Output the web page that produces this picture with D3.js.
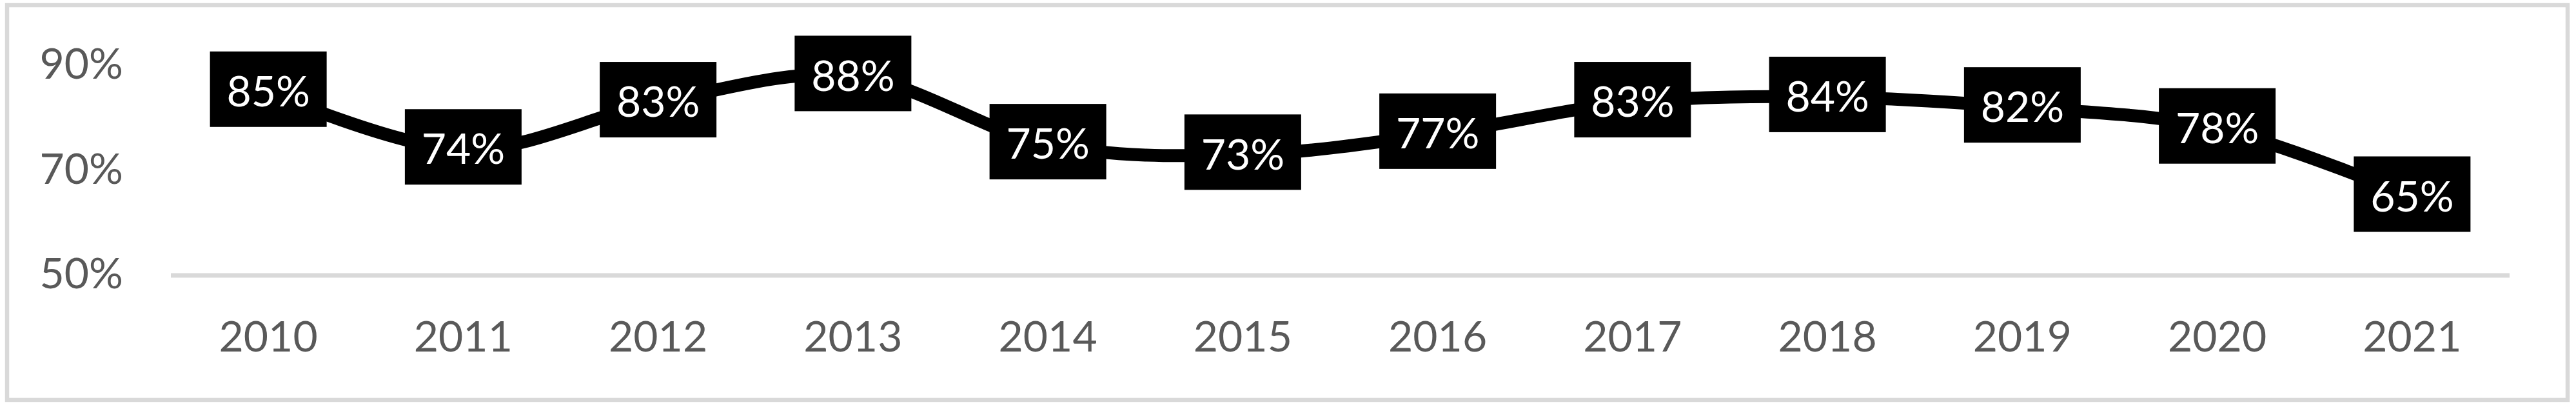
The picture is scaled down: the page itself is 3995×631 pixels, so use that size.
<!DOCTYPE html>
<html lang="en">
<head>
<meta charset="UTF-8">
<title>Chart</title>
<script src="https://cdn.jsdelivr.net/npm/d3@7"></script>
<style>
  html, body { margin: 0; padding: 0; background: #fff; }
  svg text { font-family: Lato, "Open Sans", sans-serif; }
</style>
</head>
<body>
<div id="chart"></div>
<script>
  // data
  const years = ["2010", "2011", "2012", "2013", "2014", "2015", "2016", "2017", "2018", "2019", "2020", "2021"];
  const rates = [0.85, 0.74, 0.83, 0.88, 0.75, 0.73, 0.77, 0.83, 0.84, 0.82, 0.78, 0.65];
  const yTicks = [0.5, 0.7, 0.9];

  const width = 3995, height = 631;
  const fontSize = 66;

  const svg = d3.select("#chart").append("svg")
    .attr("width", width)
    .attr("height", height);

  // chart border
  svg.append("rect")
    .attr("x", 11).attr("y", 8)
    .attr("width", 3971).attr("height", 612)
    .attr("fill", "#fff")
    .attr("stroke", "#d9d9d9")
    .attr("stroke-width", 6.5);

  const x = d3.scaleBand()
    .domain(years)
    .range([265, 3892])
    .padding(0);

  const y = d3.scaleLinear()
    .domain([0.5, 0.9])
    .range([427, 101.6]);

  const cx = d => x(d) + x.bandwidth() / 2;

  // baseline at 50%
  svg.append("line")
    .attr("x1", x.range()[0]).attr("x2", x.range()[1])
    .attr("y1", y(0.5)).attr("y2", y(0.5))
    .attr("stroke", "#d9d9d9")
    .attr("stroke-width", 7);

  // y axis labels
  const yAxis = svg.append("g")
    .attr("transform", "translate(191,0)")
    .call(d3.axisLeft(y).tickValues(yTicks).tickFormat(d3.format(".0%")).tickSize(0).tickPadding(0));
  yAxis.select(".domain").remove();
  yAxis.selectAll("text")
    .attr("dy", "0.3em")
    .attr("fill", "#595959")
    .style("font-size", fontSize + "px");

  // x axis labels
  const xAxis = svg.append("g")
    .attr("transform", `translate(0,${y(0.5)})`)
    .call(d3.axisBottom(x).tickSize(0).tickPadding(0));
  xAxis.select(".domain").remove();
  xAxis.selectAll("text")
    .attr("y", 118).attr("dy", 0)
    .attr("fill", "#595959")
    .style("font-size", fontSize + "px");

  // smoothed line
  const line = d3.line()
    .x((d, i) => cx(years[i]))
    .y(d => y(d))
    .curve(d3.curveCardinal);

  svg.append("path")
    .datum(rates)
    .attr("d", line)
    .attr("fill", "none")
    .attr("stroke", "#000")
    .attr("stroke-width", 20);

  // data labels
  const labels = svg.append("g")
    .selectAll("g")
    .data(rates)
    .join("g")
    .attr("transform", (d, i) => `translate(${cx(years[i])},${y(d)})`);

  labels.append("rect")
    .attr("x", -90.5).attr("y", -62.5)
    .attr("width", 181).attr("height", 117)
    .attr("fill", "#000");

  labels.append("text")
    .attr("text-anchor", "middle")
    .attr("y", 22.7)
    .attr("fill", "#fff")
    .style("font-size", fontSize + "px")
    .text(d => d3.format(".0%")(d));
</script>
</body>
</html>
